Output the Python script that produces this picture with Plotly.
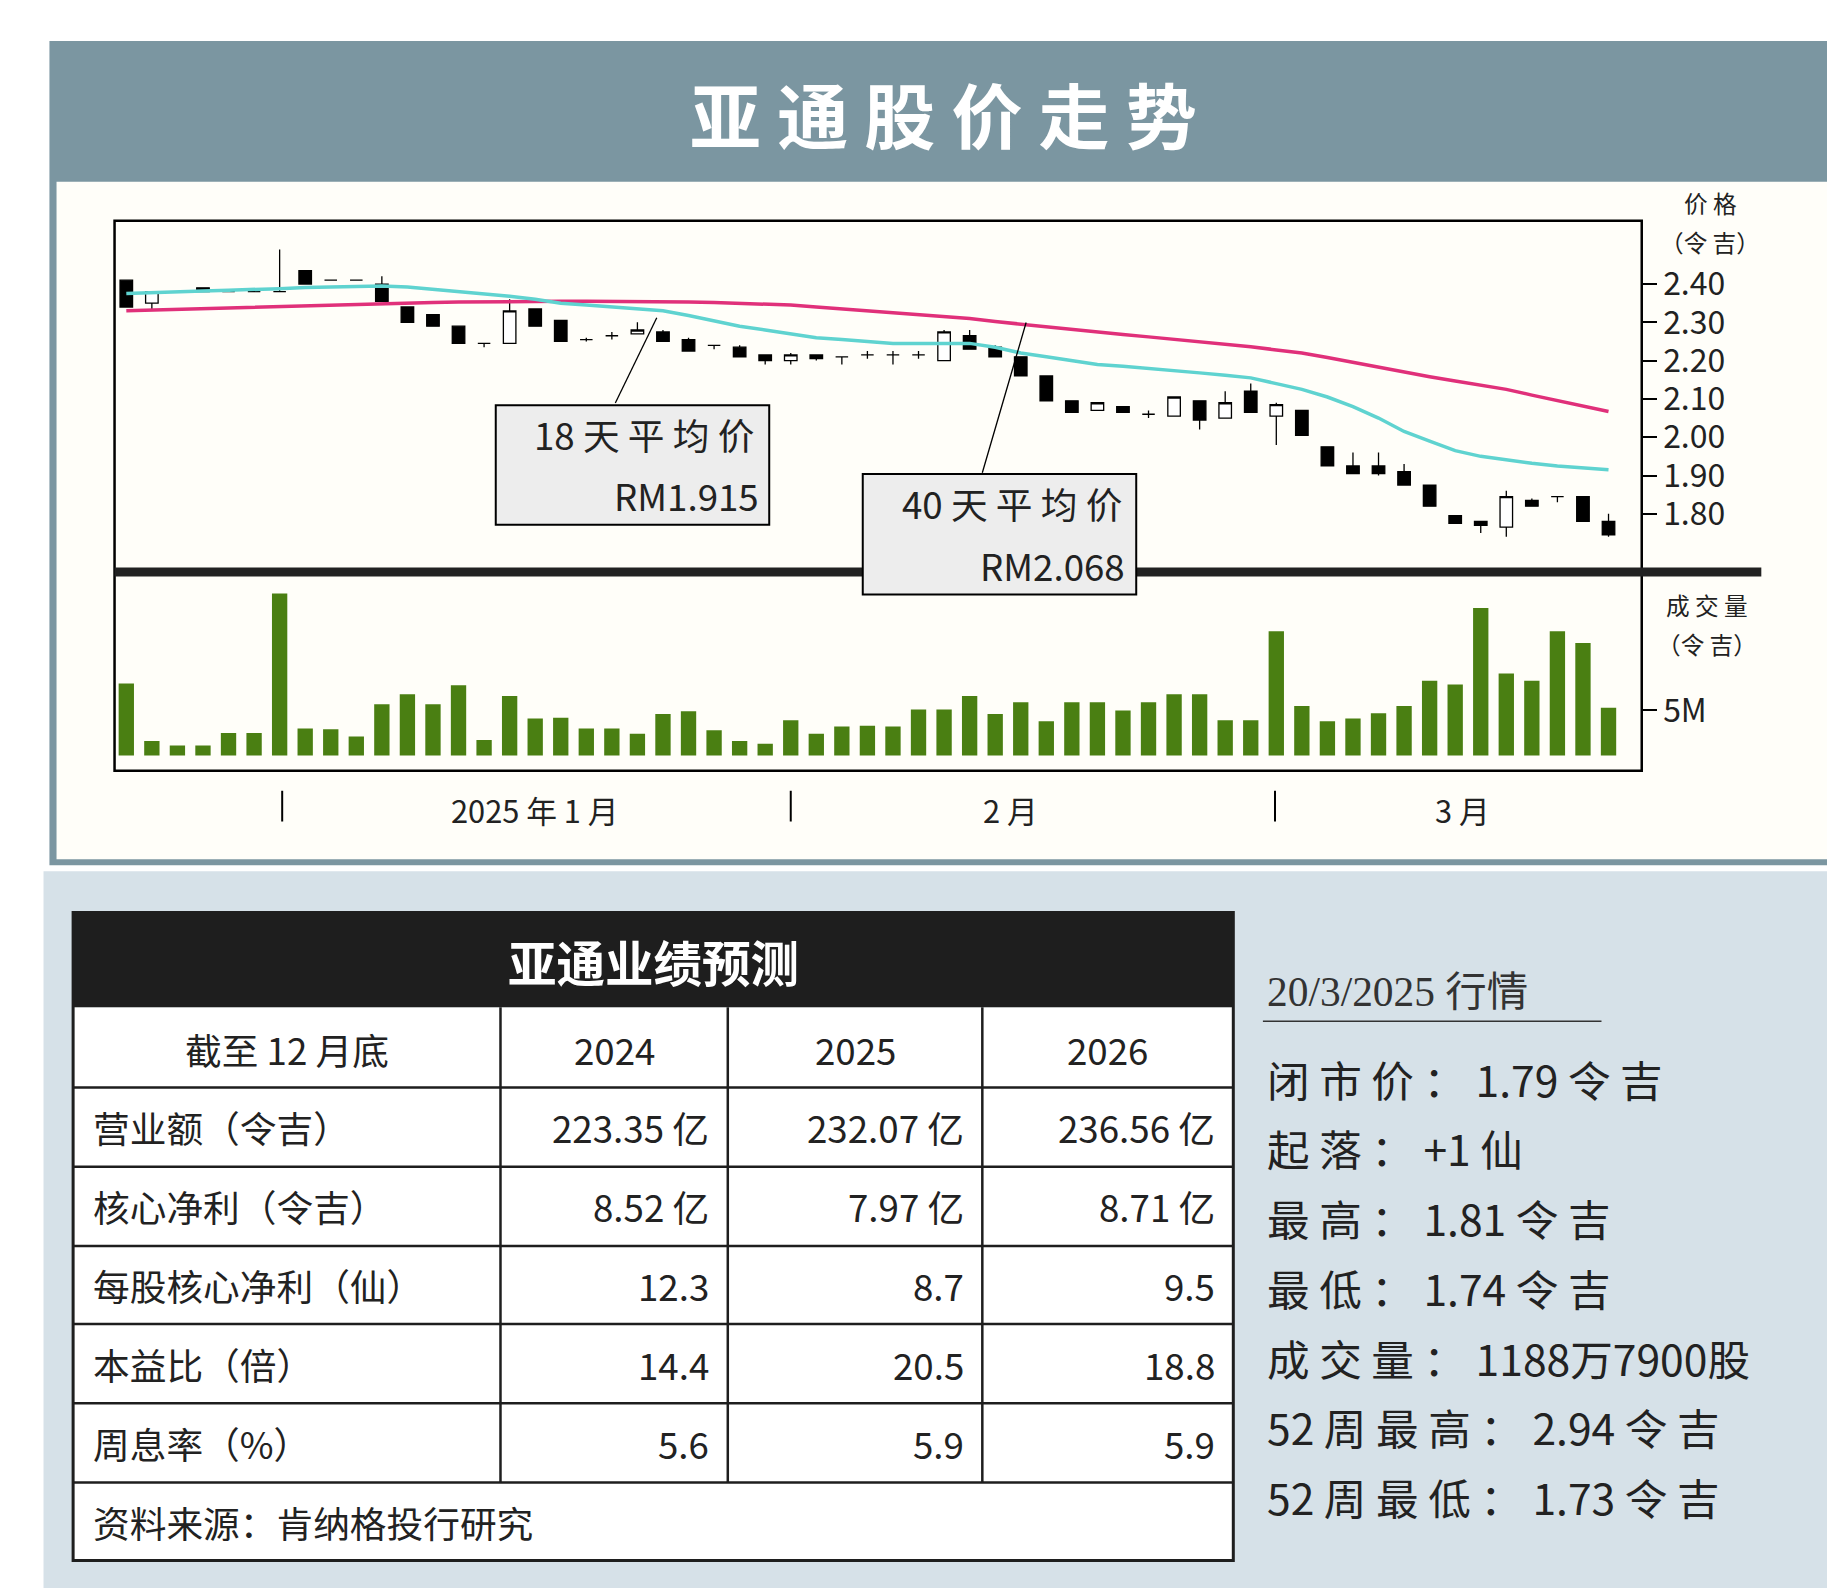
import plotly.graph_objects as go

# ---- data ----
opens = [2.41, 2.35, 2.38, 2.39, 2.38, 2.38, 2.38, 2.435, 2.41, 2.41,
         2.40, 2.34, 2.32, 2.29, 2.245, 2.245, 2.335, 2.305, 2.255, 2.265,
         2.27, 2.275, 2.255, 2.24, 2.235, 2.215, 2.20, 2.215, 2.21, 2.215,
         2.215, 2.215, 2.20, 2.265, 2.235, 2.21, 2.16, 2.095, 2.07, 2.08,
         2.06, 2.055, 2.095, 2.05, 2.12, 2.055, 2.07, 1.975, 1.925, 1.925,
         1.91, 1.875, 1.795, 1.78, 1.765, 1.835, 1.845, 1.845, 1.78]
closes = [2.34, 2.38, 2.38, 2.38, 2.38, 2.38, 2.38, 2.40, 2.41, 2.41,
          2.355, 2.30, 2.29, 2.245, 2.245, 2.33, 2.29, 2.25, 2.255, 2.265,
          2.28, 2.25, 2.225, 2.24, 2.21, 2.20, 2.215, 2.205, 2.21, 2.215,
          2.215, 2.215, 2.275, 2.23, 2.21, 2.16, 2.095, 2.065, 2.09, 2.065,
          2.06, 2.105, 2.045, 2.09, 2.065, 2.085, 2.005, 1.925, 1.905, 1.905,
          1.875, 1.82, 1.775, 1.77, 1.845, 1.82, 1.845, 1.78, 1.745]
highs = [2.41, 2.38, 2.38, 2.39, 2.38, 2.38, 2.49, 2.435, 2.41, 2.41,
         2.42, 2.34, 2.32, 2.29, 2.245, 2.36, 2.335, 2.305, 2.26, 2.275,
         2.30, 2.28, 2.26, 2.24, 2.24, 2.215, 2.22, 2.215, 2.21, 2.225,
         2.225, 2.225, 2.28, 2.28, 2.24, 2.21, 2.16, 2.095, 2.09, 2.08,
         2.07, 2.105, 2.095, 2.12, 2.14, 2.09, 2.07, 1.975, 1.96, 1.96,
         1.93, 1.875, 1.795, 1.78, 1.86, 1.84, 1.845, 1.845, 1.80]
lows = [2.34, 2.33, 2.38, 2.38, 2.38, 2.38, 2.38, 2.40, 2.41, 2.41,
        2.355, 2.30, 2.29, 2.245, 2.235, 2.245, 2.29, 2.25, 2.25, 2.255,
        2.27, 2.25, 2.225, 2.23, 2.21, 2.19, 2.19, 2.20, 2.19, 2.205,
        2.19, 2.205, 2.20, 2.23, 2.21, 2.16, 2.095, 2.065, 2.07, 2.065,
        2.05, 2.055, 2.02, 2.05, 2.065, 1.98, 2.005, 1.925, 1.905, 1.90,
        1.875, 1.82, 1.775, 1.75, 1.74, 1.82, 1.83, 1.78, 1.74]
ma18 = [2.375, 2.378, 2.380, 2.382, 2.384, 2.385, 2.388, 2.391, 2.393, 2.394,
        2.395, 2.392, 2.386, 2.380, 2.375, 2.368, 2.360, 2.350, 2.345, 2.340,
        2.335, 2.330, 2.318, 2.305, 2.290, 2.280, 2.270, 2.260, 2.255, 2.250,
        2.245, 2.245, 2.245, 2.245, 2.235, 2.220, 2.210, 2.200, 2.190, 2.185,
        2.180, 2.175, 2.168, 2.162, 2.155, 2.140, 2.125, 2.105, 2.080, 2.050,
        2.015, 1.990, 1.965, 1.950, 1.940, 1.932, 1.925, 1.920, 1.915]
ma40 = [2.330, 2.332, 2.334, 2.336, 2.338, 2.340, 2.342, 2.344, 2.346, 2.348,
        2.350, 2.351, 2.352, 2.353, 2.354, 2.355, 2.355, 2.355, 2.355, 2.355,
        2.355, 2.354, 2.353, 2.352, 2.350, 2.348, 2.345, 2.340, 2.335, 2.330,
        2.325, 2.320, 2.315, 2.310, 2.302, 2.295, 2.287, 2.280, 2.274, 2.268,
        2.262, 2.256, 2.250, 2.243, 2.236, 2.228, 2.220, 2.208, 2.195, 2.182,
        2.170, 2.158, 2.147, 2.136, 2.125, 2.110, 2.095, 2.080, 2.067]
volume_m = [8.0, 1.6, 1.1, 1.1, 2.5, 2.5, 18.0, 3.0, 2.9, 2.1,
            5.7, 6.8, 5.7, 7.8, 1.7, 6.6, 4.1, 4.2, 3.0, 3.0,
            2.4, 4.6, 4.9, 2.8, 1.6, 1.3, 3.9, 2.4, 3.2, 3.3,
            3.2, 5.1, 5.1, 6.6, 4.6, 5.9, 3.8, 5.9, 5.9, 5.0,
            5.9, 6.8, 6.8, 3.9, 3.9, 13.8, 5.5, 3.8, 4.1, 4.7,
            5.5, 8.3, 7.9, 16.4, 9.1, 8.3, 13.8, 12.5, 5.3]
month_ticks = [6.1, 26.0, 44.95]
month_labels = ["2025 年 1 月", "2 月", "3 月"]
month_label_pos = [16.0, 34.6, 52.3]
price_ticks = [2.40, 2.30, 2.20, 2.10, 2.00, 1.90, 1.80]

table_head = ["截至 12 月底", "2024", "2025", "2026"]
table_rows = [
    ["营业额（令吉）", "223.35 亿", "232.07 亿", "236.56 亿"],
    ["核心净利（令吉）", "8.52 亿", "7.97 亿", "8.71 亿"],
    ["每股核心净利（仙）", "12.3", "8.7", "9.5"],
    ["本益比（倍）", "14.4", "20.5", "18.8"],
    ["周息率（%）", "5.6", "5.9", "5.9"],
]
info_lines = ["闭 市 价 ： 1.79 令 吉", "起 落 ： +1 仙", "最 高 ： 1.81 令 吉",
              "最 低 ： 1.74 令 吉", "成 交 量 ： 1188万7900股",
              "52 周 最 高 ： 2.94 令 吉", "52 周 最 低 ： 1.73 令 吉"]

# layout in reference-display pixels, scaled to 1835 x 1588
W0, H0 = 1550, 1343
S = 1835 / W0
FONT = "Noto Sans CJK SC"


def X(px):
    return px / W0


def Y(py):
    return 1 - py / H0


idx = list(range(len(opens)))
xr = [-0.46, 59.3]

fig = go.Figure()
fig.add_trace(go.Candlestick(
    x=idx, open=opens, high=highs, low=lows, close=closes,
    increasing=dict(line=dict(color="black", width=1.3), fillcolor="white"),
    decreasing=dict(line=dict(color="black", width=1.3), fillcolor="black"),
    whiskerwidth=0, xaxis="x", yaxis="y", showlegend=False))
fig.add_trace(go.Scatter(x=idx, y=ma40, mode="lines", line=dict(color="#e0307a", width=3.5),
                         xaxis="x", yaxis="y", showlegend=False))
fig.add_trace(go.Scatter(x=idx, y=ma18, mode="lines", line=dict(color="#5fd3d0", width=3.5),
                         xaxis="x", yaxis="y", showlegend=False))
fig.add_trace(go.Bar(x=idx, y=volume_m, marker=dict(color="#4a7f12", line=dict(width=0)),
                     width=0.6, xaxis="x2", yaxis="y2", showlegend=False))

shapes = []
# panels
shapes.append(dict(type="rect", xref="paper", yref="paper", x0=X(35), x1=X(1547), y0=Y(725), y1=Y(28),
                   fillcolor="#7b96a1", line=dict(width=0), layer="below"))
shapes.append(dict(type="rect", xref="paper", yref="paper", x0=X(41), x1=X(1541), y0=Y(720), y1=Y(147),
                   fillcolor="#fffef9", line=dict(width=0), layer="below"))
shapes.append(dict(type="rect", xref="paper", yref="paper", x0=X(30), x1=X(1547), y0=Y(1345), y1=Y(730),
                   fillcolor="#d6e1e8", line=dict(width=0), layer="below"))
shapes.append(dict(type="rect", xref="paper", yref="paper", x0=X(55), x1=X(1035), y0=Y(1313), y1=Y(845),
                   fillcolor="white", line=dict(width=0), layer="below"))
# plot frames
shapes.append(dict(type="rect", xref="paper", yref="paper", x0=X(90), x1=X(1380), y0=Y(645), y1=Y(180),
                   line=dict(color="black", width=2.5)))
shapes.append(dict(type="line", xref="paper", yref="paper", x0=X(90), x1=X(1481), y0=Y(477), y1=Y(477),
                   line=dict(color="#222", width=9)))
# month tick marks
for m in month_ticks:
    shapes.append(dict(type="line", xref="x2", yref="paper", x0=m, x1=m, y0=Y(688), y1=Y(662),
                       line=dict(color="black", width=2)))
# leader lines
shapes.append(dict(type="line", xref="paper", yref="paper", x0=X(513), x1=X(548), y0=Y(334), y1=Y(262),
                   line=dict(color="black", width=1.3)))
shapes.append(dict(type="line", xref="paper", yref="paper", x0=X(823), x1=X(860), y0=Y(393), y1=Y(266),
                   line=dict(color="black", width=1.3)))
for bx0, by0, bx1, by1 in [(412, 336, 643, 437), (722, 394, 953, 496)]:
    shapes.append(dict(type="rect", xref="paper", yref="paper", x0=X(bx0), x1=X(bx1), y0=Y(by1), y1=Y(by0),
                       fillcolor="#ededed", line=dict(color="black", width=2)))

# table
col_x = [55, 416, 608, 823, 1035]
row_y = [845, 913, 980, 1047, 1113, 1180, 1247, 1313]
shapes.append(dict(type="rect", xref="paper", yref="paper", x0=X(55), x1=X(1035), y0=Y(845), y1=Y(765),
                   fillcolor="#1e1e1e", line=dict(width=0)))
shapes.append(dict(type="rect", xref="paper", yref="paper", x0=X(55), x1=X(1035), y0=Y(1313), y1=Y(765),
                   line=dict(color="#1e1e1e", width=3)))
for ry in row_y[1:-1]:
    shapes.append(dict(type="line", xref="paper", yref="paper", x0=X(55), x1=X(1035), y0=Y(ry), y1=Y(ry),
                       line=dict(color="#1e1e1e", width=2.5)))
for cx in col_x[1:-1]:
    shapes.append(dict(type="line", xref="paper", yref="paper", x0=X(cx), x1=X(cx), y0=Y(1247), y1=Y(845),
                       line=dict(color="#1e1e1e", width=2.5)))
shapes.append(dict(type="line", xref="paper", yref="paper", x0=X(1060), x1=X(1346), y0=Y(857), y1=Y(857),
                   line=dict(color="#333", width=1.5)))

ann = []


def text(x, y, s, size, color="#222", anchor="left", bold=False, family=FONT):
    ann.append(dict(x=X(x), y=Y(y), xref="paper", yref="paper", text=f"<b>{s}</b>" if bold else s,
                    showarrow=False, xanchor=anchor, yanchor="middle",
                    font=dict(family=family, size=size * S, color=color)))


text(790, 88, "亚 通 股 价 走 势", 60, "white", "center", bold=True)
text(1438, 165, "价 格", 20, anchor="center")
text(1438, 198, "（令 吉）", 20, anchor="center")
text(1435, 505, "成 交 量", 20, anchor="center")
text(1435, 538, "（令 吉）", 20, anchor="center")
text(632, 360, "18 天 平 均 价", 31, anchor="right")
text(636, 412, "RM1.915", 31, anchor="right")
text(943, 419, "40 天 平 均 价", 31, anchor="right")
text(945, 471, "RM2.068", 31, anchor="right")
for lab, pos in zip(month_labels, month_label_pos):
    ann.append(dict(x=pos, y=Y(678), xref="x2", yref="paper", text=lab, showarrow=False,
                    xanchor="center", yanchor="middle", font=dict(family=FONT, size=26 * S, color="#222")))

text(545, 806, "亚通业绩预测", 41, "white", "center", bold=True)
for j, h in enumerate(table_head):
    text((col_x[j] + col_x[j + 1]) / 2, 880, h, 31, anchor="center")
for i, row in enumerate(table_rows):
    cy = (row_y[i + 1] + row_y[i + 2]) / 2
    text(70, cy, row[0], 31)
    for j in range(1, 4):
        text(col_x[j + 1] - 14, cy, row[j], 31, anchor="right")
text(70, 1280, "资料来源：肯纳格投行研究", 31)

text(1062, 832, "20/3/2025 行情", 35, "#333", family="Liberation Serif, Noto Sans CJK SC")
for k, line in enumerate(info_lines):
    text(1062, 905 + 59 * k, line, 36)

fig.update_layout(
    width=1835, height=1588, margin=dict(l=0, r=0, t=0, b=0),
    paper_bgcolor="white", plot_bgcolor="rgba(0,0,0,0)",
    shapes=shapes, annotations=ann, bargap=0.3,
    xaxis=dict(domain=[X(90), X(1380)], range=xr, visible=False, rangeslider=dict(visible=False)),
    yaxis=dict(domain=[Y(477), Y(180)], range=[1.648, 2.565], side="right", anchor="x",
               tickvals=price_ticks, ticktext=[f"{v:.2f}" for v in price_ticks],
               ticks="outside", ticklen=14, tickwidth=2, tickcolor="black",
               tickfont=dict(family=FONT, size=27 * S, color="#222"),
               showgrid=False, zeroline=False, showline=False),
    xaxis2=dict(domain=[X(90), X(1380)], range=xr, visible=False, anchor="y2"),
    yaxis2=dict(domain=[Y(645), Y(477)], range=[-1.7, 20.4], side="right", anchor="x2",
                tickvals=[5], ticktext=["5M"], ticks="outside", ticklen=14, tickwidth=2,
                tickcolor="black", tickfont=dict(family=FONT, size=27 * S, color="#222"),
                showgrid=False, zeroline=False, showline=False),
)

fig.write_html("out.html")
